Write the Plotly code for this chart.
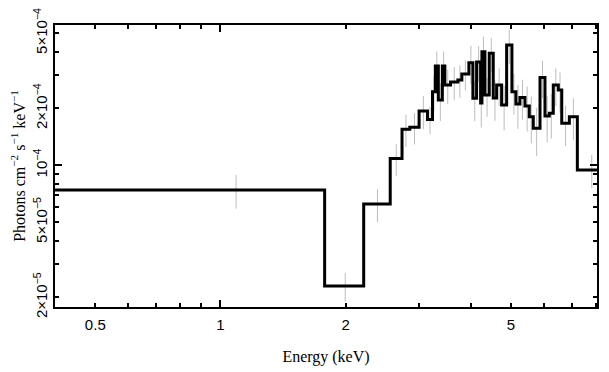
import plotly.graph_objects as go
import math

# Bin edges (keV) and flux values (photons cm^-2 s^-1 keV^-1)
bin_edges = [0.400, 1.781, 2.211, 2.561, 2.734, 2.854, 3.005, 3.148, 3.237, 3.288,
             3.343, 3.418, 3.466, 3.577, 3.725, 3.808, 3.959, 4.048, 4.132, 4.225,
             4.256, 4.327, 4.432, 4.531, 4.617, 4.747, 4.880, 5.025, 5.137, 5.253,
             5.401, 5.532, 5.656, 5.871, 6.035, 6.181, 6.319, 6.497, 6.622, 6.907,
             7.220, 8.420]

flux = [7.40e-5, 2.30e-5, 6.24e-5, 1.086e-4, 1.551e-4, 1.589e-4, 1.938e-4, 1.751e-4,
        2.452e-4, 3.353e-4, 2.216e-4, 3.353e-4, 2.660e-4, 2.759e-4, 2.827e-4, 3.041e-4,
        3.491e-4, 2.262e-4, 3.521e-4, 2.136e-4, 3.991e-4, 2.355e-4, 3.914e-4, 2.270e-4,
        2.660e-4, 2.085e-4, 4.329e-4, 2.452e-4, 2.110e-4, 2.289e-4, 2.060e-4, 1.808e-4,
        1.570e-4, 2.921e-4, 1.823e-4, 1.884e-4, 2.660e-4, 2.502e-4, 1.668e-4, 1.808e-4,
        9.44e-5]

flux_err = [1.5e-5, 0.4e-5, 1.25e-5, 2.1e-5, 3.0e-5, 3.0e-5, 3.9e-5, 2.9e-5,
            5.0e-5, 6.5e-5, 5.0e-5, 6.5e-5, 5.5e-5, 5.5e-5, 5.5e-5, 5.5e-5,
            8.0e-5, 5.5e-5, 7.5e-5, 5.5e-5, 8.0e-5, 5.5e-5, 8.0e-5, 5.5e-5,
            6.0e-5, 5.5e-5, 9.0e-5, 6.0e-5, 5.5e-5, 5.5e-5, 5.5e-5, 5.0e-5,
            4.5e-5, 6.5e-5, 5.0e-5, 5.0e-5, 6.0e-5, 6.0e-5, 4.0e-5, 4.5e-5,
            1.9e-5]

x_tickvals = [0.5, 1, 2, 5]
x_ticktext = ["0.5", "1", "2", "5"]
x_minor = [0.4, 0.6, 0.7, 0.8, 0.9, 3, 4, 6, 7, 8]
y_tickvals = [2e-5, 5e-5, 1e-4, 2e-4, 5e-4]
y_ticktext = ["2\u00d710<sup>\u22125</sup>", "5\u00d710<sup>\u22125</sup>", "10<sup>\u22124</sup>",
              "2\u00d710<sup>\u22124</sup>", "5\u00d710<sup>\u22124</sup>"]
y_minor = [3e-5, 4e-5, 6e-5, 7e-5, 8e-5, 9e-5, 3e-4, 4e-4]

x_range = [0.400, 8.05]
y_range = [1.78e-5, 5.53e-4]

centers = [(a + b) / 2 for a, b in zip(bin_edges[:-1], bin_edges[1:])]

fig = go.Figure()
fig.add_trace(go.Scatter(
    x=centers, y=flux, mode="markers",
    marker=dict(size=0.1, color="rgba(0,0,0,0)"),
    error_y=dict(type="data", array=flux_err, color="#bdbdbd", thickness=1, width=0),
    showlegend=False, hoverinfo="skip"))
fig.add_trace(go.Scatter(
    x=bin_edges, y=flux + [flux[-1]], mode="lines",
    line=dict(color="black", width=3, shape="hv"), showlegend=False))
# invisible trace on overlay axes carrying the long decade ticks
fig.add_trace(go.Scatter(x=[1], y=[1e-4], xaxis="x2", yaxis="y2", mode="markers",
                         marker=dict(size=0.1, color="rgba(0,0,0,0)"), showlegend=False,
                         hoverinfo="skip"))

lx = [math.log10(v) for v in x_range]
ly = [math.log10(v) for v in y_range]
tickfont = dict(family="Liberation Sans, Arial, sans-serif", size=15, color="black")
titlefont = dict(family="Liberation Serif, Times New Roman, serif", size=16, color="black")

# the page body adds an 8 px offset (left/top), so the figure is 8 px smaller
fig.update_layout(
    width=601, height=364,
    margin=dict(l=47, r=12, t=17, b=65),
    plot_bgcolor="white", paper_bgcolor="white",
    xaxis=dict(type="log", range=lx, showgrid=False, zeroline=False, automargin=False,
               showline=True, linecolor="black", linewidth=2, mirror="allticks",
               ticks="inside", ticklen=4, tickwidth=1.5, tickcolor="black",
               tickmode="array", tickvals=x_tickvals, ticktext=x_ticktext,
               tickfont=tickfont, ticklabelstandoff=3, ticklabeloverflow="allow",
               minor=dict(tickmode="array", tickvals=x_minor, ticks="inside",
                          ticklen=4, tickwidth=1.5, tickcolor="black", showgrid=False),
               title=dict(text="Energy (keV)", font=titlefont, standoff=19)),
    yaxis=dict(type="log", range=ly, showgrid=False, zeroline=False, automargin=False,
               showline=True, linecolor="black", linewidth=2, mirror="allticks",
               ticks="inside", ticklen=4, tickwidth=1.5, tickcolor="black",
               tickmode="array", tickvals=y_tickvals, ticktext=y_ticktext,
               tickangle=-90, ticklabeloverflow="allow",
               tickfont=dict(family="Liberation Sans, Arial, sans-serif", size=15, color="black"),
               minor=dict(tickmode="array", tickvals=y_minor, ticks="inside",
                          ticklen=4, tickwidth=1.5, tickcolor="black", showgrid=False),
               title=dict(text="Photons cm<sup>\u22122</sup> s<sup>\u22121</sup> keV<sup>\u22121</sup>",
                          font=titlefont, standoff=6)),
    xaxis2=dict(type="log", range=lx, overlaying="x", showgrid=False, zeroline=False,
                showline=False, mirror="allticks", ticks="inside", ticklen=7, tickwidth=1.5,
                tickcolor="black", tickmode="array", tickvals=[1], showticklabels=False,
                automargin=False),
    yaxis2=dict(type="log", range=ly, overlaying="y", showgrid=False, zeroline=False,
                showline=False, mirror="allticks", ticks="inside", ticklen=7, tickwidth=1.5,
                tickcolor="black", tickmode="array", tickvals=[1e-4], showticklabels=False,
                automargin=False),
)

fig.write_html("out.html")
